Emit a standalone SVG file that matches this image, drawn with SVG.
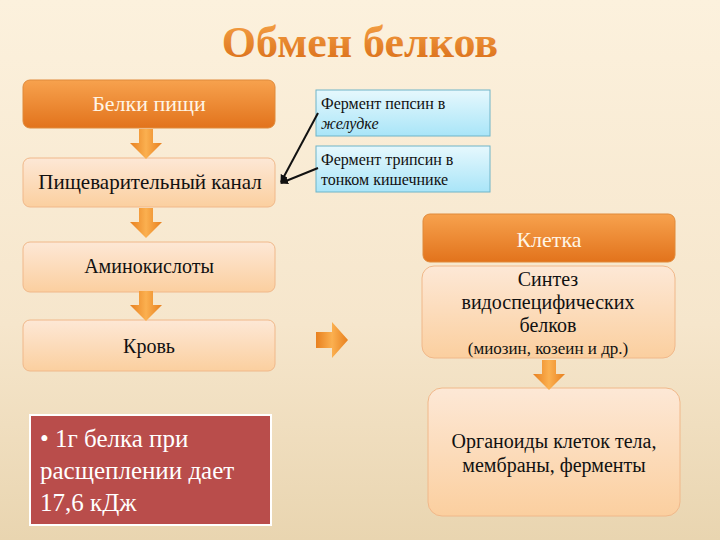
<svg xmlns="http://www.w3.org/2000/svg" width="720" height="540" viewBox="0 0 720 540">
<defs>
<linearGradient id="bg" x1="0" y1="0" x2="0" y2="1"><stop offset="0" stop-color="#fcf1dd"/><stop offset="0.6" stop-color="#f6e6cc"/><stop offset="1" stop-color="#e9d5b0"/></linearGradient>
<linearGradient id="og" x1="0" y1="0" x2="0" y2="1"><stop offset="0" stop-color="#f7a24e"/><stop offset="1" stop-color="#e2731c"/></linearGradient>
<linearGradient id="lg" x1="0" y1="0" x2="0" y2="1"><stop offset="0" stop-color="#fde8d6"/><stop offset="1" stop-color="#fbcf9f"/></linearGradient>
<linearGradient id="bl" x1="0" y1="0" x2="0" y2="1"><stop offset="0" stop-color="#e6f8fd"/><stop offset="1" stop-color="#a9e5f8"/></linearGradient>
<linearGradient id="ar" x1="0" y1="0" x2="1" y2="0"><stop offset="0" stop-color="#e8801f"/><stop offset="0.5" stop-color="#fbb050"/><stop offset="1" stop-color="#e8801f"/></linearGradient>
<linearGradient id="tt" x1="0" y1="0" x2="0" y2="1"><stop offset="0" stop-color="#f6a448"/><stop offset="1" stop-color="#d86a15"/></linearGradient>
<marker id="ah" markerWidth="8" markerHeight="8" refX="7" refY="4" orient="auto" markerUnits="userSpaceOnUse"><path d="M0,0 L8,4 L0,8 z" fill="#111"/></marker>
<path id="dn" d="M-7,0 H7 V14 H16 L0,30 L-16,14 H-7 Z"/>
</defs>
<style>
.o{fill:url(#og);stroke:#e08a3a;stroke-width:1}
.l{fill:url(#lg);stroke:#f0b88a;stroke-width:1}
.b{fill:url(#bl);stroke:#6fb4c8;stroke-width:1}
.t{font-family:"Liberation Serif",serif;text-anchor:middle;fill:#111}
.s{font-family:"Liberation Serif",serif;font-size:16px;fill:#111}
.a{fill:url(#ar)}
</style>
<rect width="720" height="540" fill="url(#bg)"/>
<text x="360" y="57" font-family="'Liberation Serif',serif" font-weight="bold" font-size="44" text-anchor="middle" fill="url(#tt)">Обмен белков</text>
<g id="n1"><rect class="o" x="23" y="80" width="252" height="48" rx="7"/><text class="t" x="149" y="111" font-size="22" style="fill:#fff5e5">Белки пищи</text></g>
<g id="n2"><rect class="l" x="23" y="158" width="252" height="49" rx="7"/><text class="t" x="150" y="189" font-size="21">Пищеварительный канал</text></g>
<g id="n3"><rect class="l" x="23" y="242" width="252" height="50" rx="7"/><text class="t" x="149" y="273" font-size="20">Аминокислоты</text></g>
<g id="n4"><rect class="l" x="23" y="320" width="252" height="51" rx="7"/><text class="t" x="149" y="353" font-size="20">Кровь</text></g>
<g id="n5"><rect x="30" y="415" width="241" height="110" fill="#b94d4b" stroke="#fff" stroke-width="2"/><text font-family="'Liberation Serif',serif" font-size="25" fill="#fff"><tspan x="40" y="447">• 1г белка при</tspan><tspan x="40" y="479">расщеплении дает</tspan><tspan x="40" y="511">17,6 кДж</tspan></text></g>
<g id="n6"><rect class="b" x="316" y="90" width="174" height="46"/><text class="s"><tspan x="321" y="109">Фермент пепсин в</tspan><tspan x="321" y="129" font-style="italic">желудке</tspan></text></g>
<g id="n7"><rect class="b" x="316" y="146" width="174" height="46"/><text class="s"><tspan x="321" y="165">Фермент трипсин в</tspan><tspan x="321" y="185">тонком кишечнике</tspan></text></g>
<g id="n8"><rect class="o" x="423" y="214" width="252" height="48" rx="7"/><text class="t" x="549" y="247" font-size="22" style="fill:#fff5e5">Клетка</text></g>
<g id="n9"><rect class="l" x="422" y="266" width="253" height="92" rx="12"/><text class="t" font-size="20"><tspan x="548" y="286">Синтез</tspan><tspan x="548" y="309">видоспецифических</tspan><tspan x="548" y="332">белков</tspan><tspan x="548" y="354" font-size="17">(миозин, козеин и др.)</tspan></text></g>
<g id="n10"><rect class="l" x="428" y="388" width="252" height="128" rx="14"/><text class="t" font-size="20"><tspan x="554" y="448">Органоиды клеток тела,</tspan><tspan x="554" y="472">мембраны, ферменты</tspan></text></g>
<g id="connectors">
<use href="#dn" class="a" x="146" y="129"/>
<use href="#dn" class="a" x="146" y="208"/>
<use href="#dn" class="a" x="146" y="291"/>
<use href="#dn" class="a" x="549" y="360"/>
<path class="a" d="M316,332 H332 V322 L348,340 L332,358 V348 H316 Z"/>
<line x1="318" y1="113" x2="281" y2="182" stroke="#111" stroke-width="2" marker-end="url(#ah)"/>
<line x1="318" y1="168" x2="281" y2="183" stroke="#111" stroke-width="2" marker-end="url(#ah)"/>
</g>
</svg>
